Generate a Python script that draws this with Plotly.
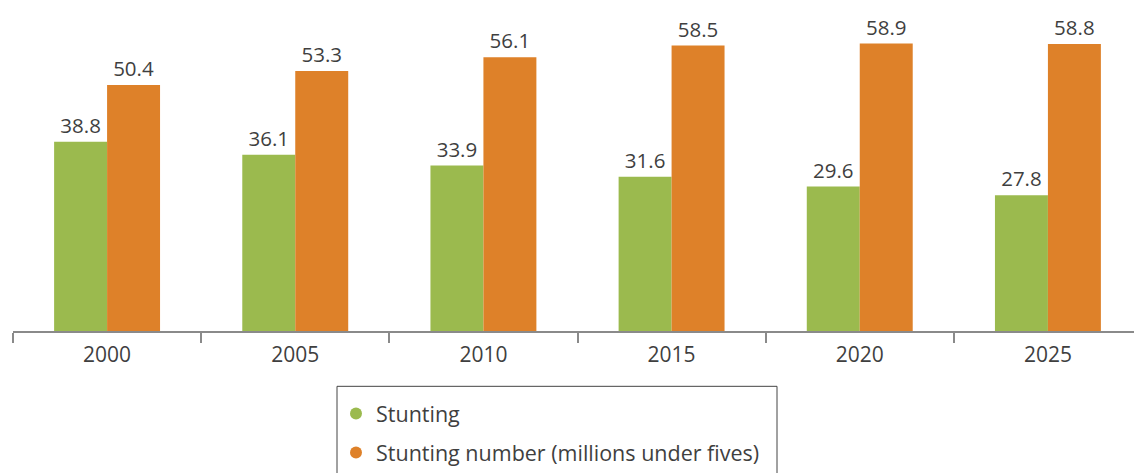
import plotly.graph_objects as go

years = ["2000", "2005", "2010", "2015", "2020", "2025"]
stunting = [38.8, 36.1, 33.9, 31.6, 29.6, 27.8]
stunting_number = [50.4, 53.3, 56.1, 58.5, 58.9, 58.8]

names = ["Stunting", "Stunting number (millions under fives)"]
colors = ["#9BBA4E", "#DE8129"]

# page body has an 8px default margin; compensate so the plot lands on screen pixels
OFF = 8
W, H = 1134, 465
ML, MR, MT = 5, 0, 0
PH = 335 - OFF - MT
MB = H - MT - PH

font_family = "Open Sans, Noto Sans, sans-serif"
text_color = "#3f3f3f"

fig = go.Figure()
for i, (vals, name, col) in enumerate(zip([stunting, stunting_number], names, colors)):
    fig.add_trace(go.Bar(
        x=years, y=vals, name=name, marker=dict(color=col, line=dict(width=0)),
        text=[f"{v:.1f}" for v in vals], textposition="outside",
        textfont=dict(size=20.5, color=text_color, family=font_family),
        cliponaxis=False, showlegend=False,
    ))
    fig.add_trace(go.Scatter(
        x=[None], y=[None], mode="markers", name=name, legendgroup=f"g{i}",
        marker=dict(symbol="circle", size=12, color=col),
        showlegend=True,
    ))

def px_x(px):
    return (px - OFF - ML) / (W - ML - MR)

def px_y(py):
    return (MT + PH - (py - OFF)) / PH

fig.add_shape(type="rect", xref="paper", yref="paper",
              x0=px_x(337), x1=px_x(777), y0=px_y(490), y1=px_y(391),
              line=dict(color="#444444", width=1), fillcolor="rgba(0,0,0,0)")

fig.update_layout(
    width=W, height=H,
    margin=dict(l=ML, r=MR, t=MT, b=MB),
    paper_bgcolor="white", plot_bgcolor="white",
    barmode="group", bargap=0.437, bargroupgap=0,
    font=dict(family=font_family, color=text_color, size=21),
    legend=dict(
        x=px_x(336), y=px_y(398), xanchor="left", yanchor="top",
        orientation="v", bgcolor="rgba(0,0,0,0)", borderwidth=0,
        font=dict(size=21.5, color=text_color, family=font_family),
        itemwidth=30, tracegroupgap=8, traceorder="grouped",
    ),
    xaxis=dict(
        type="category", showgrid=False, showline=True, linecolor="#8a8a8a", linewidth=1.5,
        ticks="outside", tickson="boundaries", ticklen=10, tickcolor="#8a8a8a", tickwidth=1.5,
        tickfont=dict(size=21, color=text_color, family=font_family),
        ticklabelstandoff=4,
        range=[-0.5, 5.5],
    ),
    yaxis=dict(
        range=[0, PH / 4.94], showgrid=False, showline=False, showticklabels=False,
        zeroline=False, ticks="",
    ),
)

fig.write_html("out.html")
